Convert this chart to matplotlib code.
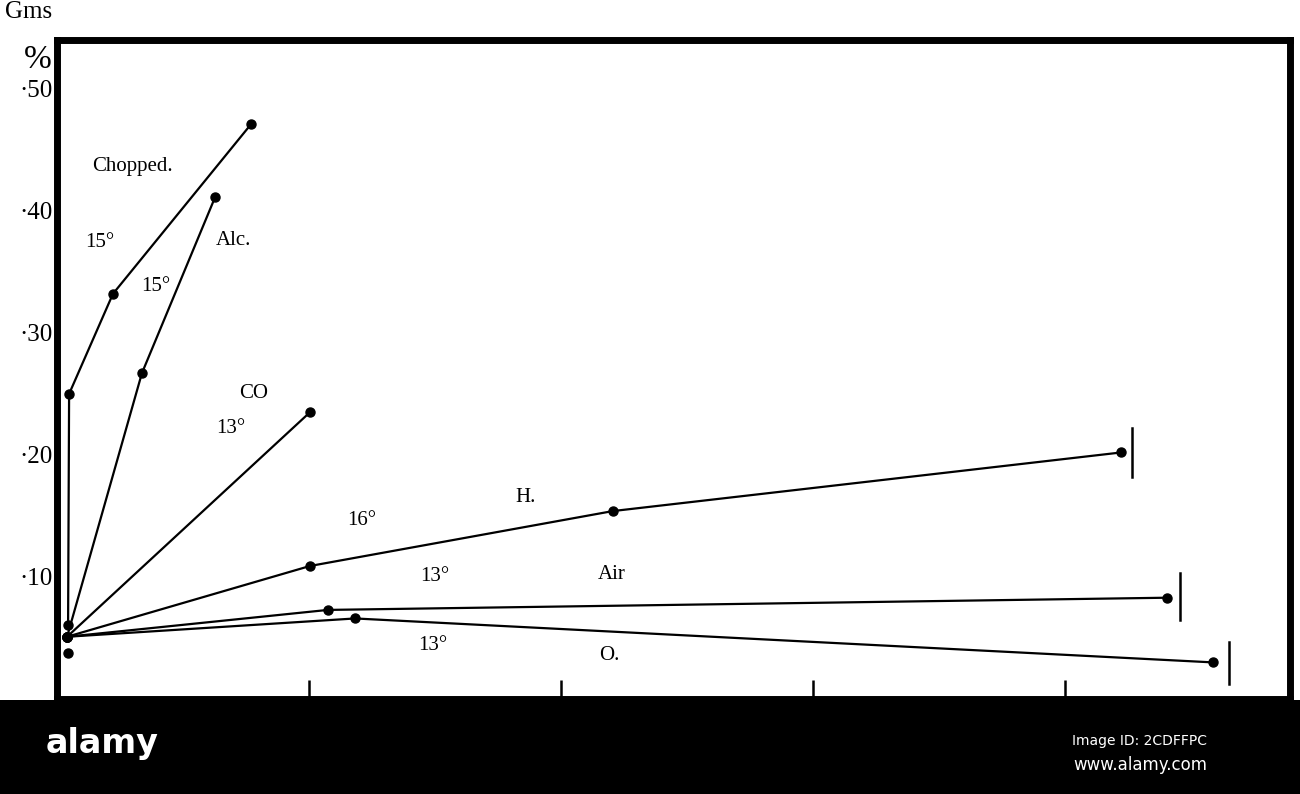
import matplotlib.pyplot as plt
from matplotlib.patches import Rectangle

# data (x in tick units, y in gms %)
chopped_x = [0.044, 0.048, 0.222, 0.770]
chopped_y = [0.061, 0.250, 0.332, 0.471]
alc_x = [0.04, 0.337, 0.627]
alc_y = [0.051, 0.267, 0.411]
co_x = [0.04, 1.004]
co_y = [0.051, 0.235]
h_x = [0.04, 1.004, 2.206, 4.222]
h_y = [0.051, 0.109, 0.154, 0.202]
air_x = [0.04, 1.075, 4.405]
air_y = [0.051, 0.073, 0.083]
o_x = [0.04, 1.183, 4.587]
o_y = [0.051, 0.066, 0.030]
extra_x = [0.044]
extra_y = [0.038]

# end bars
end_x = [4.266, 4.456, 4.651]
end_lo = [0.182, 0.065, 0.012]
end_hi = [0.222, 0.103, 0.047]

yticks = [0.10, 0.20, 0.30, 0.40, 0.50]
ytick_labels = ['·10', '·20', '·30', '·40', '·50']
xticks = [1, 2, 3, 4]

plt.rcParams['font.family'] = ['Liberation Serif', 'DejaVu Serif']

fig = plt.figure(figsize=(13, 7.94), dpi=100)
ax = fig.add_axes([57 / 1300, 95 / 794, 1233 / 1300, 659 / 794])

series = [(chopped_x, chopped_y), (alc_x, alc_y), (co_x, co_y),
          (h_x, h_y), (air_x, air_y), (o_x, o_y)]
for xs, ys in series:
    ax.plot(xs, ys, color='black', lw=1.6, marker='o', ms=6.5,
            markerfacecolor='black', markeredgecolor='black')
ax.plot(extra_x, extra_y, 'o', color='black', ms=6.5)

for x, lo, hi in zip(end_x, end_lo, end_hi):
    ax.plot([x, x], [lo, hi], color='black', lw=1.8)

ax.set_xlim(0, 4.893)
ax.set_ylim(0, 0.54)
ax.set_yticks(yticks)
ax.set_yticklabels(ytick_labels, fontsize=18)
ax.set_xticks(xticks)
ax.set_xticklabels([])
ax.tick_params(axis='x', direction='in', length=14, width=1.8, color='black')
ax.tick_params(axis='y', length=0, pad=3)
for s in ax.spines.values():
    s.set_linewidth(5)
    s.set_color('black')

txt = dict(fontsize=15, color='black', ha='center', va='center')
ax.text(0.30, 0.436, 'Chopped.', **txt)
ax.text(0.17, 0.374, '15°', **txt)
ax.text(0.70, 0.376, 'Alc.', **txt)
ax.text(0.39, 0.338, '15°', **txt)
ax.text(0.78, 0.250, 'CO', **txt)
ax.text(0.69, 0.222, '13°', **txt)
ax.text(1.21, 0.146, '16°', **txt)
ax.text(1.86, 0.165, 'H.', **txt)
ax.text(1.50, 0.100, '13°', **txt)
ax.text(2.20, 0.102, 'Air', **txt)
ax.text(1.49, 0.044, '13°', **txt)
ax.text(2.19, 0.036, 'O.', **txt)

fig.text(29 / 1300, 1 - 12 / 794, 'Gms', fontsize=18, ha='center', va='center')
fig.text(38 / 1300, 1 - 60 / 794, '%', fontsize=24, ha='center', va='center')

# watermark band at the bottom of the scan
fig.patches.append(Rectangle((0, 0), 1, 94 / 794, transform=fig.transFigure,
                             facecolor='black', edgecolor='none', zorder=5))
fig.text(102 / 1300, 1 - 744 / 794, 'alamy', fontsize=24, color='white',
         family='DejaVu Sans', weight='bold', ha='center', va='center', zorder=6)
fig.text(1140 / 1300, 1 - 741 / 794, 'Image ID: 2CDFFPC', fontsize=10,
         color='white', family='DejaVu Sans', ha='center', va='center', zorder=6)
fig.text(1140 / 1300, 1 - 765 / 794, 'www.alamy.com', fontsize=12,
         color='white', family='DejaVu Sans', ha='center', va='center', zorder=6)

fig.savefig('out.png', dpi=100)
